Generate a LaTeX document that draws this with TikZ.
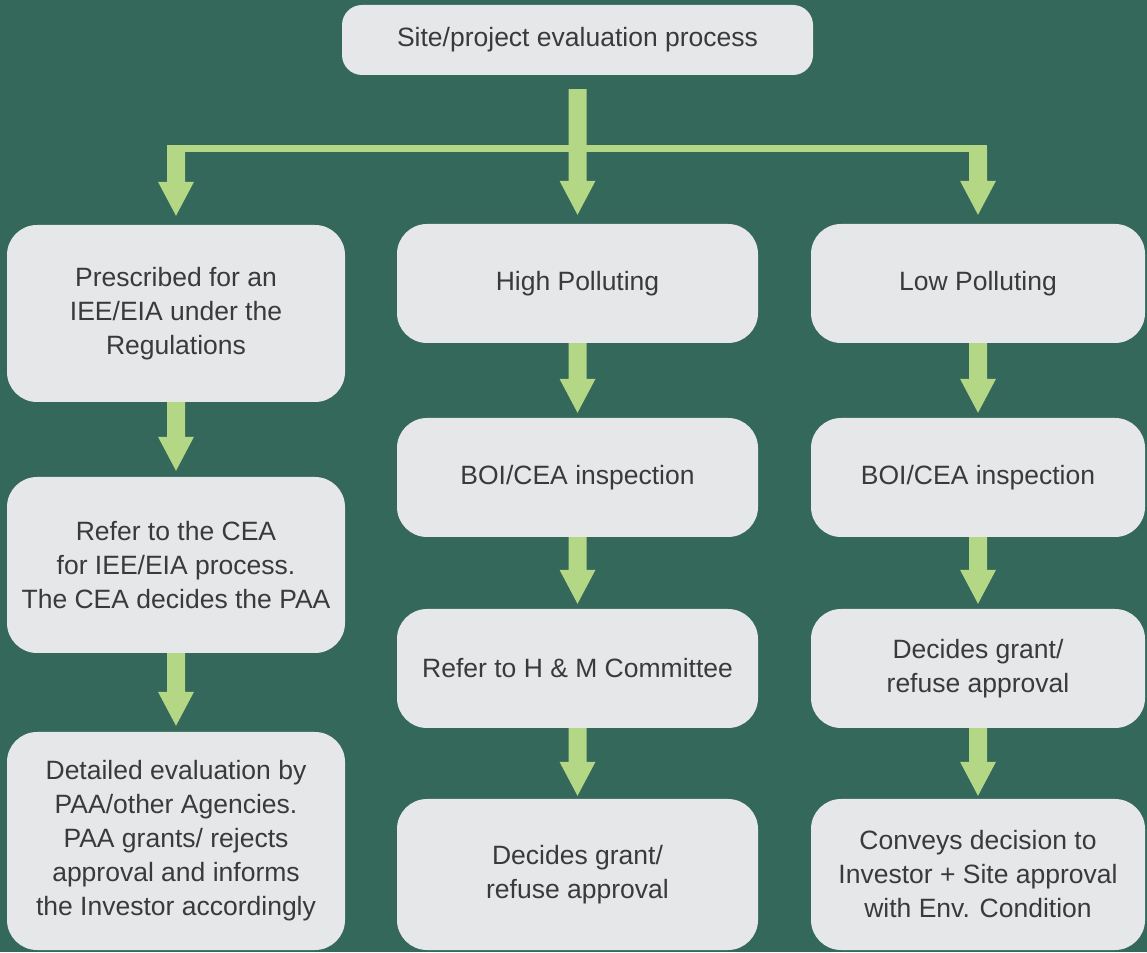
\documentclass[tikz,border=0pt]{standalone}
\usepackage{fontspec}
\setmainfont{Liberation Sans}
\usetikzlibrary{calc}
\definecolor{bg}{HTML}{33685A}
\definecolor{boxc}{HTML}{E6E7E8}
\definecolor{txt}{HTML}{3A3A3A}
\definecolor{arr}{HTML}{B4D785}
\tikzset{
  box/.style={fill=boxc, rounded corners=30pt, inner sep=0pt, align=center,
    text=txt, font=\fontsize{26.5}{34}\selectfont},
  lbox/.style={box, minimum width=338pt},
  mbox/.style={box, minimum width=361pt},
  rbox/.style={box, minimum width=334pt},
}
% fat arrow from point #2 to point #3, tip stops #1 pt before #3
\newcommand\fatarrow[3][6]{%
  \fill[arr] let \p1=#2, \p2=#3 in
  (\x2-9pt,\y1) -- (\x2-9pt,\y2+#1pt+34pt) -- (\x2-18pt,\y2+#1pt+34pt)
  -- (\x2,\y2+#1pt) -- (\x2+18pt,\y2+#1pt+34pt) -- (\x2+9pt,\y2+#1pt+34pt)
  -- (\x2+9pt,\y1) -- cycle;}
\begin{document}
\begin{tikzpicture}[x=1pt,y=1pt]
\useasboundingbox (0,0) rectangle (1147,952);
\fill[bg] (0,0) rectangle (1147,952);

\node[box, rounded corners=20pt, minimum width=471pt, minimum height=70pt] (top) at (577.5,912) {Site/project evaluation process};

\node[lbox, minimum height=177pt] (L1) at (176,638.5) {Prescribed for an\\IEE/EIA under the\\Regulations};
\node[lbox, minimum height=176pt] (L2) at (176,387) {Refer to the CEA\\for IEE/EIA process.\\The CEA decides the PAA};
\node[lbox, minimum height=218pt] (L3) at (176,111) {Detailed evaluation by\\PAA/other Agencies.\\PAA grants/ rejects\\approval and informs\\the Investor accordingly};

\node[mbox, minimum height=119pt] (M1) at (577.5,668.5) {High Polluting};
\node[mbox, minimum height=119pt] (M2) at (577.5,474.5) {BOI/CEA inspection};
\node[mbox, minimum height=119pt] (M3) at (577.5,283.5) {Refer to H \& M Committee};
\node[mbox, minimum height=151pt] (M4) at (577.5,77.5) {Decides grant/\\refuse approval};

\node[rbox, minimum height=119pt] (R1) at (978,668.5) {Low Polluting};
\node[rbox, minimum height=119pt] (R2) at (978,474.5) {BOI/CEA inspection};
\node[rbox, minimum height=119pt] (R3) at (978,283.5) {Decides grant/\\refuse approval};
\node[rbox, minimum height=151pt] (R4) at (978,77.5) {Conveys decision to\\Investor + Site approval\\with Env. Condition};

% top branching connector
\coordinate (bar) at (577.5,803.5);
\coordinate (barL) at (L1.north |- bar);
\coordinate (barR) at (R1.north |- bar);
\fill[arr] ($(barL)+(-9pt,3.5pt)$) rectangle ($(barR)+(9pt,-3.5pt)$);
\fatarrow[9]{($(top.south)+(0,-14pt)$)}{(M1.north)}
\fatarrow[9]{(barL)}{(L1.north)}
\fatarrow[9]{(barR)}{(R1.north)}

% column arrows
\fatarrow{(L1.south)}{(L2.north)}
\fatarrow{(L2.south)}{(L3.north)}
\fatarrow[5]{(M1.south)}{(M2.north)}
\fatarrow[5]{(M2.south)}{(M3.north)}
\fatarrow[3]{(M3.south)}{(M4.north)}
\fatarrow[5]{(R1.south)}{(R2.north)}
\fatarrow[5]{(R2.south)}{(R3.north)}
\fatarrow[3]{(R3.south)}{(R4.north)}
\end{tikzpicture}
\end{document}
